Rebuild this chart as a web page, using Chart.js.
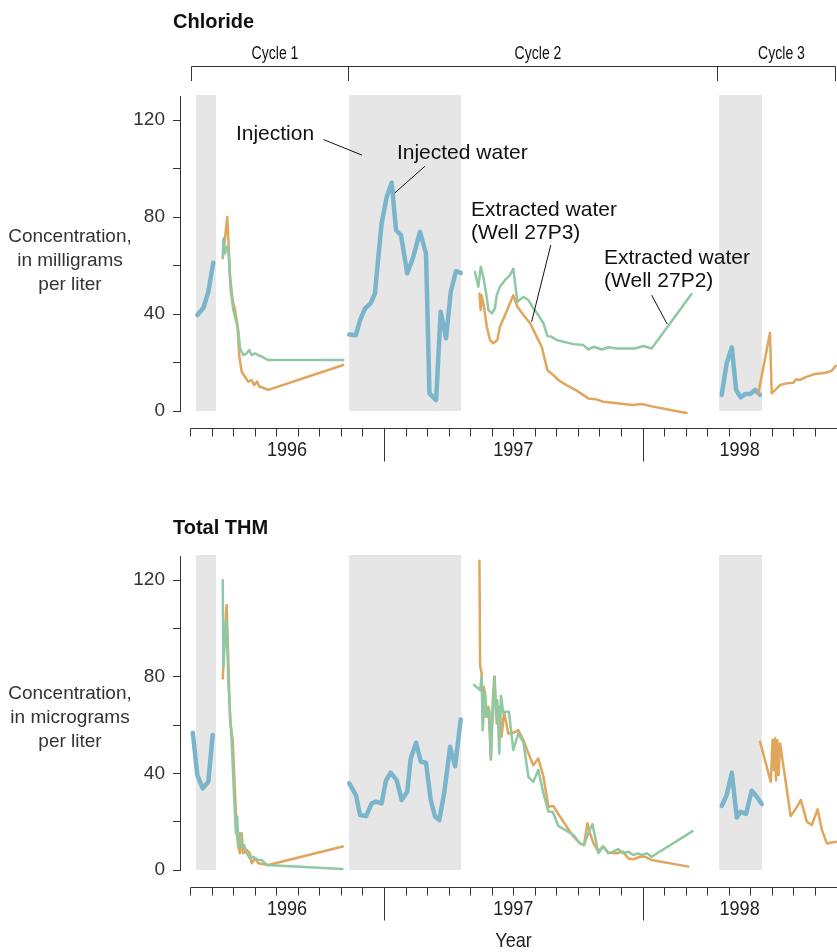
<!DOCTYPE html>
<html><head><meta charset="utf-8">
<script src="https://cdn.jsdelivr.net/npm/chart.js@4"></script>
<style>
html,body{margin:0;padding:0;background:#fff;}
#wrap{position:relative;width:837px;height:952px;overflow:hidden;background:#fff;}
canvas{position:absolute;left:0;}
</style></head><body>
<div id="wrap">
<canvas id="c1" style="top:0;width:837px;height:470px"></canvas>
<canvas id="c2" style="top:470px;width:837px;height:482px"></canvas>
</div>
<script>
// ---- time axis: months since 1 Jan 1996 ----
const monthTicks = Array.from({length:31},(_,i)=>3+i);   // Apr 1996 .. Oct 1998
const yearStarts = [12, 24];
const yearLabels = ['1996','1997','1998'];
const yearLabelPos = [7.5, 18, 28.5];
const injectionPeriods = [[3.28,4.21],[10.38,15.58],[27.55,29.54]];
const cycleBounds = [3.05, 10.33, 27.45, 32.93];
const cycleLabels = ['Cycle 1','Cycle 2','Cycle 3'];
const yTicks = [0,20,40,60,80,100,120];
const yLabels = [0,40,80,120];

// ---- Chloride, mg/L ----
const chlorideInjected = [
 [3.34,39.6],[3.62,42.5],[3.85,49.2],[4.08,61.2], null,
 [10.39,31.6],[10.70,31.3],[10.89,37.5],[11.12,42.3],[11.38,44.4],[11.58,48.5],[11.74,63.6],[11.89,77.4],[12.13,88.4],[12.36,94.2],[12.56,74.6],[12.79,72.6],[13.08,56.8],[13.36,63.6],[13.67,73.9],[13.95,65.0],[14.11,7.3],[14.42,4.5],[14.63,41.0],[14.88,30.0],[15.10,49.2],[15.34,57.7],[15.56,57.0], null,
 [27.67,6.6],[27.90,19.7],[28.14,26.3],[28.34,8.7],[28.55,5.6],[28.75,7.0],[28.99,7.0],[29.22,8.7],[29.45,6.6]
];
const chloride27P3 = [
 [4.52,63.0],[4.73,80.1],[4.86,55.4],[4.98,45.8],[5.09,41.6],[5.19,36.2],[5.29,22.4],[5.40,16.2],[5.55,14.1],[5.71,12.1],[5.86,12.8],[5.97,10.7],[6.12,12.1],[6.22,10.0],[6.33,9.8],[6.63,8.7],[10.11,19.0], null,
 [16.43,48.5],[16.49,41.6],[16.53,47.8],[16.64,43.0],[16.77,34.8],[16.92,29.3],[17.07,27.9],[17.26,29.3],[17.38,34.8],[17.62,39.6],[18.0,47.8],[18.19,43.0],[18.47,39.6],[18.78,36.2],[19.09,30.6],[19.32,26.5],[19.58,16.9],[19.86,14.8],[20.09,12.8],[20.47,10.7],[20.94,8.4],[21.48,5.2],[21.86,4.8],[22.17,3.8],[22.64,3.4],[23.1,2.9],[23.57,2.5],[23.95,2.9],[24.49,1.8],[25.11,0.7],[26.04,-0.8], null,
 [29.37,7.3],[29.91,32.3],[29.99,7.3],[30.38,10.7],[30.69,11.4],[31.0,11.7],[31.12,13.1],[31.3,12.8],[31.54,13.9],[32.0,15.3],[32.5,15.8],[32.77,16.6],[32.96,18.6]
];
const chloride27P2 = [
 [4.52,63.6],[4.55,71.2],[4.63,65.0],[4.70,67.8],[4.78,66.4],[4.89,49.9],[5.01,41.6],[5.13,37.5],[5.24,33.4],[5.32,25.9],[5.47,23.1],[5.63,23.8],[5.75,25.2],[5.86,23.1],[6.02,23.8],[6.17,23.1],[6.33,22.4],[6.63,21.0],[10.11,21.0], null,
 [16.22,57.4],[16.38,51.3],[16.49,59.5],[16.61,55.4],[16.74,48.5],[16.85,41.6],[17.01,40.3],[17.15,42.4],[17.23,47.8],[17.38,51.3],[17.61,54.0],[17.85,56.1],[18.0,58.8],[18.19,45.1],[18.47,47.1],[18.70,45.8],[18.93,42.4],[19.16,39.6],[19.40,36.2],[19.58,30.9],[19.78,30.6],[20.01,29.3],[20.33,28.6],[20.79,27.6],[21.25,27.2],[21.49,25.4],[21.72,26.5],[22.11,25.4],[22.41,26.3],[22.8,25.8],[23.26,25.8],[23.65,25.8],[24.03,26.8],[24.42,25.8],[26.27,48.3]
];

// ---- Total THM, ug/L ----
const thmInjected = [
 [3.13,56.8],[3.34,39.3],[3.59,33.8],[3.85,36.5],[4.05,55.9], null,
 [10.39,35.9],[10.70,31.0],[10.89,22.8],[11.17,22.3],[11.43,27.6],[11.63,28.3],[11.89,27.6],[12.09,37.0],[12.31,40.3],[12.59,37.2],[12.82,29.0],[13.08,32.4],[13.24,46.2],[13.49,52.7],[13.71,44.8],[13.95,44.4],[14.17,29.0],[14.37,22.1],[14.57,20.7],[14.79,31.7],[15.07,51.0],[15.30,43.0],[15.56,62.3], null,
 [27.67,26.5],[27.90,31.0],[28.14,40.3],[28.37,21.7],[28.55,24.1],[28.80,23.2],[29.06,32.8],[29.30,30.3],[29.53,27.3]
];
const thm27P3 = [
 [4.52,79.3],[4.60,95.0],[4.70,109.7],[4.86,62.1],[4.98,53.8],[5.09,31.7],[5.17,15.2],[5.24,9.7],[5.32,6.9],[5.40,15.2],[5.47,6.9],[5.63,8.3],[5.78,6.9],[5.86,2.8],[6.02,4.8],[6.17,2.8],[6.63,2.1],[10.09,9.7], null,
 [16.43,128.0],[16.46,84.8],[16.53,81.3],[16.58,66.2],[16.64,75.9],[16.74,63.4],[16.85,67.6],[16.96,45.7],[17.05,70.3],[17.12,80.0],[17.23,60.7],[17.35,67.6],[17.46,55.2],[17.57,65.5],[17.77,56.5],[18.0,56.8],[18.23,57.9],[18.47,53.8],[18.70,48.3],[18.93,43.4],[19.16,46.2],[19.40,38.6],[19.63,26.2],[19.86,26.5],[20.17,22.1],[20.48,17.9],[20.79,13.8],[21.1,11.0],[21.28,10.3],[21.44,19.3],[21.56,15.2],[21.72,11.0],[21.95,7.6],[22.17,9.9],[22.41,7.1],[22.8,6.9],[23.1,7.6],[23.34,4.8],[23.57,4.4],[23.88,5.5],[24.11,5.5],[24.42,4.1],[26.12,1.4], null,
 [29.45,53.1],[29.95,36.5],[30.03,53.8],[30.10,41.4],[30.14,54.5],[30.19,37.2],[30.25,53.8],[30.31,39.3],[30.38,52.4],[30.87,22.3],[31.12,25.5],[31.34,29.0],[31.62,20.0],[31.85,18.6],[32.12,25.1],[32.32,16.6],[32.55,11.0],[32.98,11.7]
];
const thm27P2 = [
 [4.52,120.0],[4.55,84.1],[4.63,97.9],[4.70,103.4],[4.78,77.3],[4.93,53.8],[5.04,31.7],[5.13,15.2],[5.19,22.1],[5.25,9.7],[5.32,15.2],[5.40,9.7],[5.51,10.3],[5.63,6.9],[5.78,4.8],[5.94,5.5],[6.17,4.1],[6.33,4.1],[6.56,2.1],[10.07,0.4], null,
 [16.18,76.6],[16.46,74.5],[16.53,80.0],[16.58,57.9],[16.69,73.8],[16.77,63.4],[16.89,66.2],[16.96,46.2],[17.05,66.2],[17.14,80.0],[17.20,63.4],[17.26,70.3],[17.35,48.2],[17.43,72.0],[17.54,64.8],[17.62,65.5],[17.80,65.5],[18.0,49.6],[18.23,56.5],[18.47,53.0],[18.70,38.6],[18.93,36.5],[19.16,41.4],[19.40,31.7],[19.63,24.1],[19.83,24.1],[20.09,18.2],[20.40,16.6],[20.79,14.5],[21.1,11.0],[21.28,10.3],[21.48,15.2],[21.67,19.0],[21.95,6.9],[22.17,9.7],[22.41,6.9],[22.64,7.6],[22.87,8.6],[23.1,6.9],[23.34,7.6],[23.57,6.2],[23.80,6.9],[23.95,6.2],[24.19,6.9],[24.42,5.5],[26.32,16.1]
];

// ---- styling ----
const FONT = "'Liberation Sans', Arial, sans-serif";
const COL_INJ = '#7bb5cb', COL_P3 = '#dfa65c', COL_P2 = '#90c8a3', SHADE = '#e6e6e6', INK = '#222';

const chlorideNotes = [
 {lines:['Injection'], x:5.13, y:114.2, from:[9.2,112.0], to:[10.98,105.6]},
 {lines:['Injected water'], x:12.6, y:106.4, from:[13.9,101.0], to:[12.5,90.0]},
 {lines:['Extracted water','(Well 27P3)'], x:16.04, y:82.9, from:[19.74,68.5], to:[18.85,36.8]},
 {lines:['Extracted water','(Well 27P2)'], x:22.21, y:63.1, from:[24.42,47.8], to:[25.14,35.9]}
];

function segments(arr){
  const out=[[]];
  arr.forEach(p=>{ if(p===null) out.push([]); else out[out.length-1].push({x:p[0],y:p[1]}); });
  return out.filter(s=>s.length);
}
function seriesSets(list){
  const sets=[];
  list.forEach(s=>{
    segments(s.data).forEach(seg=>sets.push({data:seg,borderColor:s.color,borderWidth:s.width,
      pointRadius:0,tension:0,fill:false,borderJoinStyle:'round',borderCapStyle:'round',clip:6}));
  });
  return sets;
}
// condensed text: horizontally squeezed Liberation Sans
function narrowText(ctx,t,x,y,size,sx){
  ctx.save(); ctx.translate(x,y); ctx.scale(sx,1);
  ctx.font=size+'px '+FONT; ctx.textAlign='center'; ctx.fillText(t,0,0); ctx.restore();
}

const decor = {
  id:'decor',
  beforeDatasetsDraw(chart){
    const ctx=chart.ctx,a=chart.chartArea,xs=chart.scales.x;
    ctx.save(); ctx.fillStyle=SHADE;
    injectionPeriods.forEach(([s,e])=>{
      const x0=xs.getPixelForValue(s),x1=xs.getPixelForValue(e);
      ctx.fillRect(x0,a.top-1,x1-x0,a.bottom-a.top+1);
    });
    ctx.restore();
  },
  afterDraw(chart){
    const o=chart.options.plugins.decor,ctx=chart.ctx,a=chart.chartArea,xs=chart.scales.x,ys=chart.scales.y;
    const X=v=>xs.getPixelForValue(v),Y=v=>ys.getPixelForValue(v);
    ctx.save();
    // title
    ctx.fillStyle='#111'; ctx.font='bold 20px '+FONT; ctx.textAlign='left'; ctx.textBaseline='alphabetic';
    ctx.fillText(o.title,173,o.titleY);
    // cycle bracket
    ctx.strokeStyle='#333'; ctx.lineWidth=1;
    if(o.cycles){
      const yL=66.5,yT=81;
      const bx=cycleBounds.map(v=>Math.round(X(v))+0.5);
      ctx.beginPath(); ctx.moveTo(bx[0],yL); ctx.lineTo(bx[bx.length-1],yL);
      bx.forEach(x=>{ctx.moveTo(x,yL);ctx.lineTo(x,yT);}); ctx.stroke();
      ctx.fillStyle='#111'; ctx.textBaseline='alphabetic';
      cycleLabels.forEach((t,i)=>narrowText(ctx,t,(bx[i]+bx[i+1])/2+5,59,18,0.78));
    }
    // x axis
    const yA=Math.round(a.bottom+17)+0.5;
    ctx.beginPath(); ctx.moveTo(Math.round(X(monthTicks[0]))+0.5,yA); ctx.lineTo(a.right,yA);
    monthTicks.forEach(m=>{const x=Math.round(X(m))+0.5; const len=yearStarts.includes(m)?33:8; ctx.moveTo(x,yA); ctx.lineTo(x,yA+len);});
    ctx.stroke();
    ctx.fillStyle=INK; ctx.textBaseline='middle';
    yearLabels.forEach((t,i)=>narrowText(ctx,t,X(yearLabelPos[i]),a.bottom+39,21,0.86));
    if(o.xTitle) narrowText(ctx,o.xTitle,(X(monthTicks[0])+a.right)/2,a.bottom+71,21,0.86);
    // y title
    ctx.font='19px '+FONT; ctx.fillStyle='#333'; ctx.textAlign='center'; ctx.textBaseline='middle';
    o.yTitle.forEach((t,i)=>ctx.fillText(t,70,o.yTitleTop+i*24));
    // annotations
    ctx.font='21px '+FONT; ctx.fillStyle='#111'; ctx.textAlign='left'; ctx.textBaseline='middle';
    ctx.strokeStyle='#111'; ctx.lineWidth=1;
    (o.notes||[]).forEach(n=>{
      n.lines.forEach((t,i)=>ctx.fillText(t,X(n.x),Y(n.y)+i*23));
      ctx.beginPath(); ctx.moveTo(X(n.from[0]),Y(n.from[1])); ctx.lineTo(X(n.to[0]),Y(n.to[1])); ctx.stroke();
    });
    ctx.restore();
  }
};

function makeChart(id,h,series,deco,padTop,padBottom){
  const cv=document.getElementById(id); cv.width=837; cv.height=h;
  return new Chart(cv,{
    type:'line',
    data:{datasets:seriesSets(series)},
    options:{
      responsive:false,animation:false,events:[],
      layout:{padding:{top:padTop,bottom:padBottom,left:0,right:0}},
      scales:{
        x:{type:'linear',min:2.536,max:33.02,display:false},
        y:{type:'linear',min:0,max:130,position:'left',
          afterBuildTicks(s){s.ticks=yTicks.map(v=>({value:v}));},
          afterFit(s){s.width=180;},
          ticks:{autoSkip:false,padding:8,color:'#333',font:{family:FONT,size:19},
            callback:v=>yLabels.includes(v)?String(v):''},
          grid:{drawOnChartArea:false,drawTicks:true,tickLength:7,color:'#333',tickColor:'#333'},
          border:{display:true,color:'#333',width:1}
        }
      },
      plugins:{legend:{display:false},tooltip:{enabled:false},decor:deco}
    },
    plugins:[decor]
  });
}

makeChart('c1',470,[
  {data:chloride27P2,color:COL_P2,width:2.5},
  {data:chloride27P3,color:COL_P3,width:2.5},
  {data:chlorideInjected,color:COL_INJ,width:4.5}
],{title:'Chloride',titleY:27.5,cycles:true,yTitle:['Concentration,','in milligrams','per liter'],yTitleTop:237,notes:chlorideNotes},96,59);

makeChart('c2',482,[
  {data:thm27P2,color:COL_P2,width:2.5},
  {data:thm27P3,color:COL_P3,width:2.5},
  {data:thmInjected,color:COL_INJ,width:4.5}
],{title:'Total THM',titleY:64,cycles:false,yTitle:['Concentration,','in micrograms','per liter'],yTitleTop:224,xTitle:'Year',notes:[]},86,82);
</script>
</body></html>
